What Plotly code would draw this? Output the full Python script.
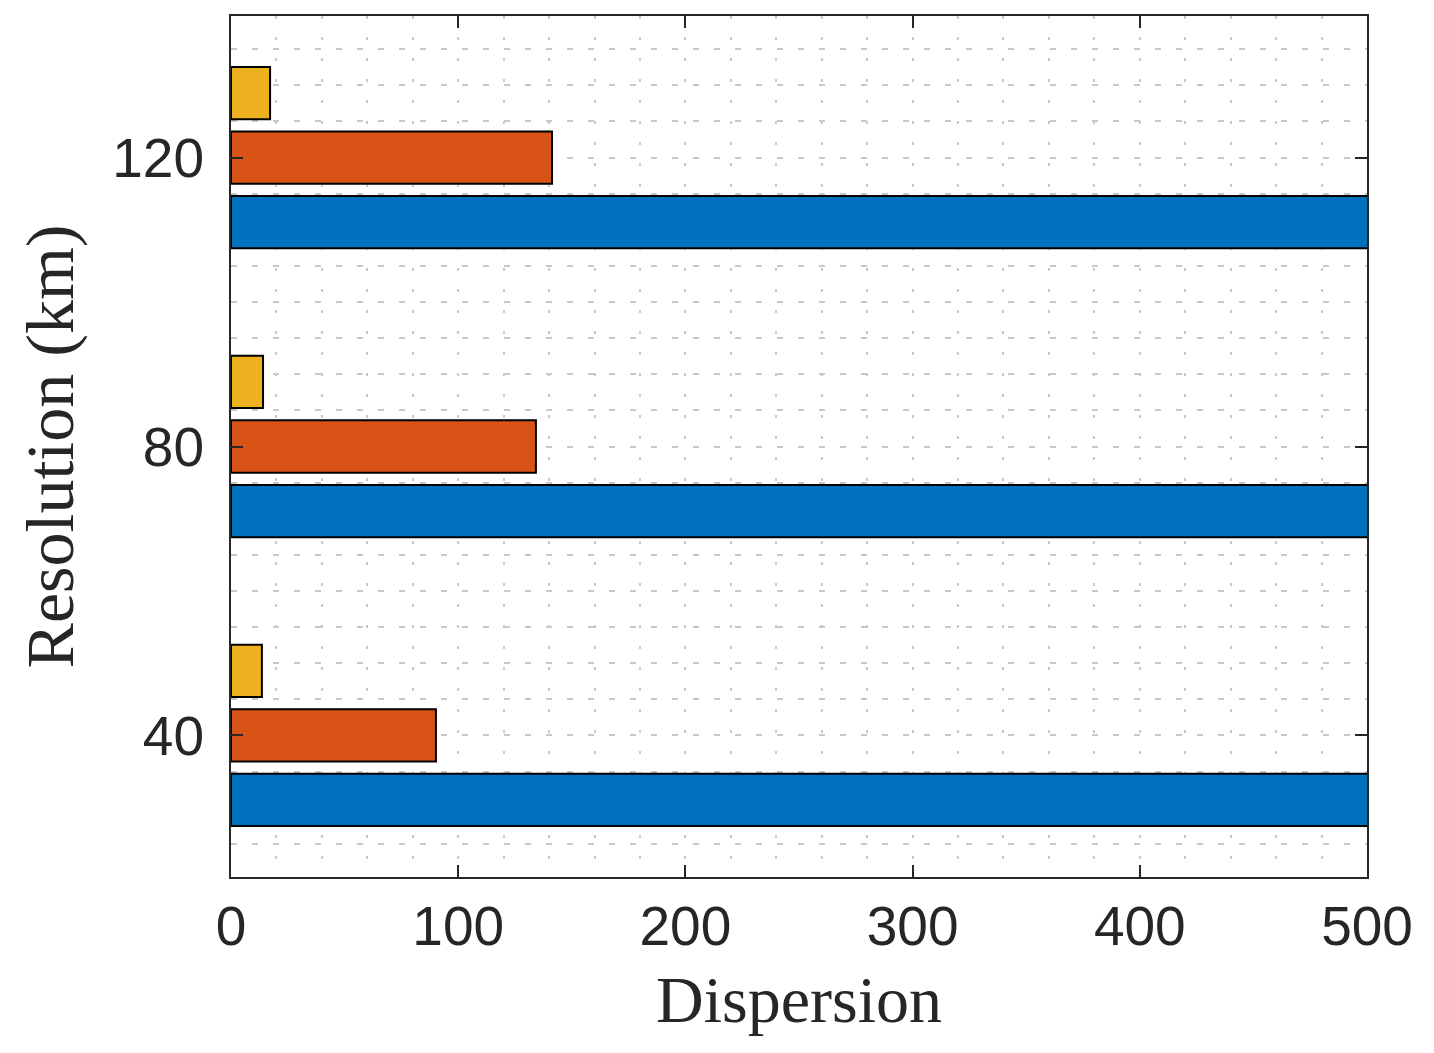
import plotly.graph_objects as go

resolution = [40, 80, 120]
series_blue = [600, 600, 600]      # exceeds axis limit (clipped at 500)
series_orange = [90.2, 134.2, 141.3]
series_yellow = [13.6, 14.1, 17.2]
x_ticks = [0, 100, 200, 300, 400, 500]
y_ticks = [40, 80, 120]

colors = ["#0072BD", "#D95319", "#EDB120"]

fig = go.Figure()
for vals, c in zip([series_blue, series_orange, series_yellow], colors):
    fig.add_trace(go.Bar(
        x=vals, y=resolution, orientation="h",
        marker=dict(color=c, line=dict(color="#000000", width=2)),
        showlegend=False,
    ))

axis_col = "#262626"
grid_col = "#c8c8c8"

fig.update_layout(
    width=1434, height=1053,
    margin=dict(l=223, r=75, t=6, b=184),
    plot_bgcolor="white", paper_bgcolor="white",
    barmode="group", bargap=0.33, bargroupgap=0.19,
    font=dict(family="Liberation Sans, Arial, sans-serif", color=axis_col),
)

fig.update_xaxes(
    range=[0, 500], tickvals=x_ticks,
    showline=True, linecolor=axis_col, linewidth=2, mirror="ticks",
    ticks="inside", ticklen=12, tickwidth=2, tickcolor=axis_col,
    tickfont=dict(size=55, color=axis_col, family="Liberation Sans, Arial, sans-serif"),
    showgrid=True, gridcolor=grid_col, gridwidth=1.5, griddash="3px,18px",
    minor=dict(dtick=20, showgrid=True, gridcolor=grid_col, gridwidth=1.5, griddash="3px,18px", ticks=""),
    zeroline=False,
    title=dict(text="Dispersion", font=dict(family="Liberation Serif, Times New Roman, serif", size=66, color=axis_col), standoff=20),
)
fig.update_yaxes(
    range=[20.4, 139.6], tickvals=y_ticks,
    showline=True, linecolor=axis_col, linewidth=2, mirror="ticks",
    ticks="inside", ticklen=12, tickwidth=2, tickcolor=axis_col, ticklabelstandoff=14,
    tickfont=dict(size=55, color=axis_col, family="Liberation Sans, Arial, sans-serif"),
    showgrid=True, gridcolor=grid_col, gridwidth=1.5, griddash="6px,15px",
    minor=dict(dtick=5, showgrid=True, gridcolor=grid_col, gridwidth=1.5, griddash="6px,15px", ticks=""),
    zeroline=False,
    title=dict(text="Resolution (km)", font=dict(family="Liberation Serif, Times New Roman, serif", size=68, color=axis_col), standoff=16),
)

fig.write_html("out.html")
